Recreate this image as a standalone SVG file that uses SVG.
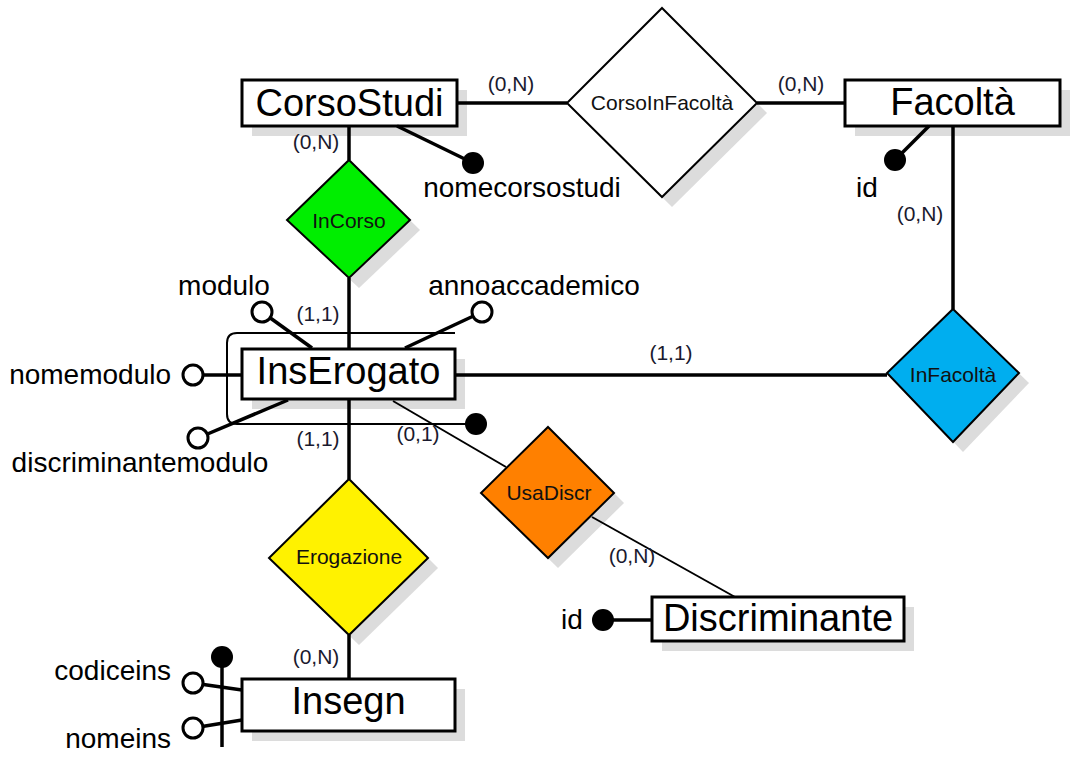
<svg xmlns="http://www.w3.org/2000/svg" width="1074" height="763" viewBox="0 0 1074 763">
<style>
.bg{fill:#fff}
.ent{fill:#fff;stroke:#000;stroke-width:3}
.sh{fill:#dcdcdc}
.rel{stroke:#000;stroke-width:2}
.et{font-family:"Liberation Sans",Arial,sans-serif;font-size:38px;text-anchor:middle;fill:#000}
.rt{font-family:"Liberation Sans",Arial,sans-serif;font-size:21px;text-anchor:middle;fill:#111}
.at{font-family:"Liberation Sans",Arial,sans-serif;font-size:28px;fill:#000}
.ct{font-family:"Liberation Sans",Arial,sans-serif;font-size:21px;text-anchor:middle;fill:#1a1a2e}
.l3{stroke:#000;stroke-width:3.5;fill:none}
.l2{stroke:#000;stroke-width:2;fill:none}
.oc{fill:#fff;stroke:#000;stroke-width:3}
.fc{fill:#000}
</style>
<rect class="bg" width="1074" height="763"/>
<g id="shadows">
<rect class="sh" x="252" y="90" width="215" height="46"/>
<polygon class="sh" points="672,18 767,113 672,207 577,113"/>
<rect class="sh" x="855" y="90" width="215" height="46"/>
<polygon class="sh" points="359,170 420,230 359,288 297,230"/>
<polygon class="sh" points="963,319 1029,383 963,452 897,383"/>
<rect class="sh" x="252" y="359" width="213" height="50"/>
<polygon class="sh" points="359,489 438,568 359,645 279,568"/>
<polygon class="sh" points="558,437 624,503 558,568 491,503"/>
<rect class="sh" x="252" y="689" width="213" height="52"/>
<rect class="sh" x="662" y="607" width="252" height="44"/>
</g>
<g id="connectors">
<line class="l3" x1="457" y1="103" x2="567" y2="103"/>
<line class="l3" x1="757" y1="103" x2="845" y2="103"/>
<line class="l3" x1="349" y1="126" x2="349" y2="160"/>
<line class="l3" x1="349" y1="278" x2="349" y2="349"/>
<line class="l3" x1="953" y1="126" x2="953" y2="309"/>
<line class="l3" x1="455" y1="375" x2="887" y2="375"/>
<line class="l3" x1="349" y1="399" x2="349" y2="479"/>
<line class="l3" x1="349" y1="635" x2="349" y2="679"/>
<line class="l2" x1="393" y1="401" x2="506" y2="467"/>
<line class="l2" x1="592" y1="517" x2="735" y2="597"/>
<text class="ct" x="511" y="91">(0,N)</text>
<text class="ct" x="801" y="91">(0,N)</text>
<text class="ct" x="316" y="149">(0,N)</text>
<text class="ct" x="920" y="221">(0,N)</text>
<text class="ct" x="318" y="321">(1,1)</text>
<text class="ct" x="671" y="360">(1,1)</text>
<text class="ct" x="318" y="446">(1,1)</text>
<text class="ct" x="418" y="441">(0,1)</text>
<text class="ct" x="316" y="664">(0,N)</text>
<text class="ct" x="632" y="563">(0,N)</text>
</g>
<g id="CorsoStudi">
<rect class="ent" x="242" y="80" width="215" height="46"/>
<text class="et" x="349.5" y="116">CorsoStudi</text>
<line class="l3" x1="397" y1="126" x2="473" y2="163"/>
<circle class="fc" cx="473" cy="163" r="11"/>
<text class="at" x="522" y="197" text-anchor="middle">nomecorsostudi</text>
</g>
<g id="CorsoInFacolta">
<polygon class="rel" fill="#fff" points="662,8 757,103 662,197 567,103"/>
<text class="rt" x="662" y="110">CorsoInFacoltà</text>
</g>
<g id="Facolta">
<rect class="ent" x="845" y="80" width="215" height="46"/>
<text class="et" x="952.5" y="115">Facoltà</text>
<line class="l3" x1="929" y1="126" x2="895" y2="160"/>
<circle class="fc" cx="895" cy="160" r="11"/>
<text class="at" x="867" y="197" text-anchor="middle">id</text>
</g>
<g id="InCorso">
<polygon class="rel" fill="#00ee00" points="349,160 410,220 349,278 287,220"/>
<text class="rt" x="349" y="228">InCorso</text>
</g>
<g id="InFacolta">
<polygon class="rel" fill="#00aeef" points="953,309 1019,373 953,442 887,373"/>
<text class="rt" x="953" y="382">InFacoltà</text>
</g>
<g id="InsErogato">
<path class="l2" d="M455,333 H237 Q227,333 227,343 V414 Q227,424 237,424 H476"/>
<circle class="fc" cx="476" cy="424" r="11"/>
<line class="l3" x1="262" y1="312" x2="312" y2="348"/>
<circle class="oc" cx="262" cy="312" r="10"/>
<text class="at" x="224" y="295" text-anchor="middle">modulo</text>
<line class="l3" x1="482" y1="312" x2="405" y2="348"/>
<circle class="oc" cx="482" cy="312" r="10"/>
<text class="at" x="534" y="295" text-anchor="middle">annoaccademico</text>
<line class="l3" x1="193" y1="375" x2="242" y2="375"/>
<circle class="oc" cx="193" cy="375" r="10"/>
<text class="at" x="171" y="384" text-anchor="end">nomemodulo</text>
<line class="l3" x1="198" y1="438" x2="288" y2="400"/>
<circle class="oc" cx="198" cy="438" r="10"/>
<text class="at" x="140" y="472" text-anchor="middle">discriminantemodulo</text>
<rect class="ent" x="242" y="349" width="213" height="50"/>
<text class="et" x="348.5" y="384">InsErogato</text>
</g>
<g id="Erogazione">
<polygon class="rel" fill="#fff200" points="349,479 428,558 349,635 269,558"/>
<text class="rt" x="349" y="564">Erogazione</text>
</g>
<g id="UsaDiscr">
<polygon class="rel" fill="#ff8000" points="548,427 614,493 548,558 481,493"/>
<text class="rt" x="549" y="500">UsaDiscr</text>
</g>
<g id="Insegn">
<line class="l3" x1="222" y1="657" x2="222" y2="747"/>
<circle class="fc" cx="222" cy="657" r="11"/>
<line class="l3" x1="193" y1="683" x2="242" y2="690"/>
<circle class="oc" cx="193" cy="683" r="10"/>
<text class="at" x="171" y="680" text-anchor="end">codiceins</text>
<line class="l3" x1="193" y1="728" x2="242" y2="720"/>
<circle class="oc" cx="193" cy="728" r="10"/>
<text class="at" x="171" y="748" text-anchor="end">nomeins</text>
<rect class="ent" x="242" y="679" width="213" height="52"/>
<text class="et" x="348.5" y="714">Insegn</text>
</g>
<g id="Discriminante">
<rect class="ent" x="652" y="597" width="252" height="44"/>
<text class="et" x="778" y="631">Discriminante</text>
<line class="l3" x1="603" y1="620" x2="652" y2="620"/>
<circle class="fc" cx="603" cy="620" r="11"/>
<text class="at" x="572" y="629" text-anchor="middle">id</text>
</g>
</svg>
